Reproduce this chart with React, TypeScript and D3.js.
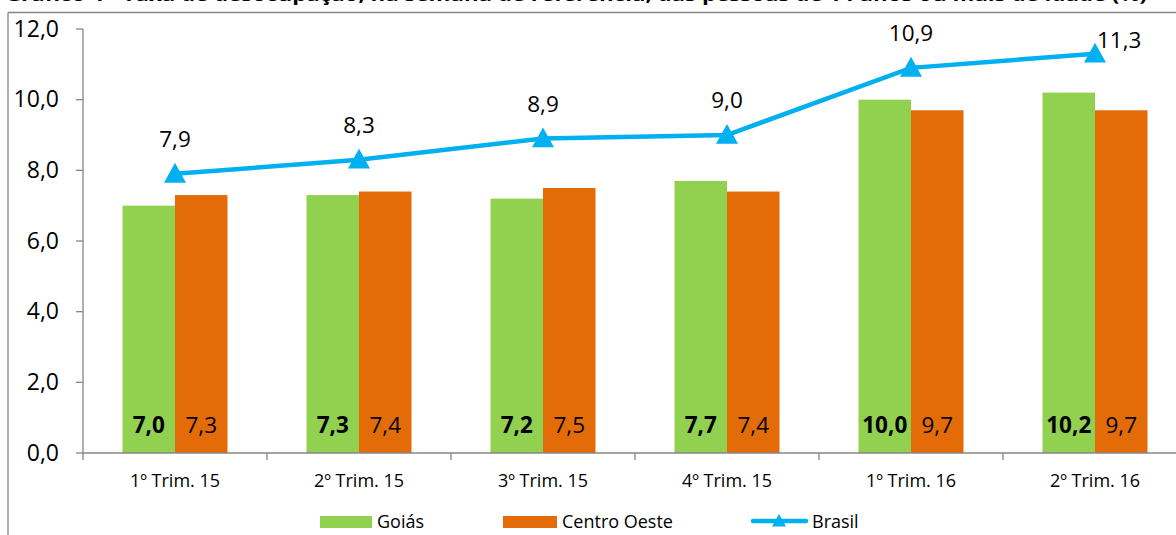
import React from "react";
import * as d3 from "d3";

const categories = ["1º Trim. 15", "2º Trim. 15", "3º Trim. 15", "4º Trim. 15", "1º Trim. 16", "2º Trim. 16"];
const goias = [7.0, 7.3, 7.2, 7.7, 10.0, 10.2];
const centroOeste = [7.3, 7.4, 7.5, 7.4, 9.7, 9.7];
const brasil = [7.9, 8.3, 8.9, 9.0, 10.9, 11.3];
const yTicks = [0, 2, 4, 6, 8, 10, 12];
const title = "Gráfico 4 - Taxa de desocupação, na semana de referência, das pessoas de 14 anos ou mais de idade (%)";

const W = 1176;
const H = 535;
const FONT = "'Open Sans', sans-serif";
const GREEN = "#92D050";
const ORANGE = "#E36C09";
const BLUE = "#00B0F0";
const AXIS = "#868686";

const fmt = (v: number) => v.toFixed(1).replace(".", ",");

export default function App() {
  const x0 = 83;
  const x = d3.scaleBand<string>().domain(categories).range([x0, x0 + 184 * 6]).paddingInner(0).paddingOuter(0);
  const y = d3.scaleLinear().domain([0, 12]).range([453, 29]);
  const barW = 52.5;
  const cx = (c: string) => (x(c) as number) + x.bandwidth() / 2;

  const line = d3
    .line<number>()
    .x((_, i) => cx(categories[i]))
    .y((d) => y(d));

  const tri = (px: number, py: number, s = 11) =>
    `M${px},${py - s} L${px + s},${py + s * 0.8} L${px - s},${py + s * 0.8} Z`;

  const last = brasil.length - 1;

  return (
    <svg width={W} height={H} style={{ position: "absolute", left: 0, top: 0, background: "#fff" }} fontFamily={FONT}>
      <text x={5} y={0.5} fontSize={18} fontWeight="bold" textLength={1142} lengthAdjust="spacingAndGlyphs" fill="#000">
        {title}
      </text>
      {/* frame */}
      <line x1={8} x2={W} y1={12.5} y2={12.5} stroke={AXIS} strokeWidth={1.3} />
      <line x1={8} x2={8} y1={12.5} y2={H} stroke={AXIS} strokeWidth={1.3} />

      {/* bars */}
      {categories.map((c, i) => (
        <g key={c}>
          <rect x={cx(c) - barW} y={y(goias[i])} width={barW} height={y(0) - y(goias[i])} fill={GREEN} />
          <rect x={cx(c)} y={y(centroOeste[i])} width={barW} height={y(0) - y(centroOeste[i])} fill={ORANGE} />
          <text x={cx(c) - barW / 2} y={433} textAnchor="middle" fontSize={22.5} fontWeight="bold" fill="#000">
            {fmt(goias[i])}
          </text>
          <text x={cx(c) + barW / 2} y={433} textAnchor="middle" fontSize={22.5} fill="#000">
            {fmt(centroOeste[i])}
          </text>
        </g>
      ))}

      {/* y axis */}
      <line x1={x0} x2={x0} y1={y(12)} y2={y(0)} stroke={AXIS} strokeWidth={1.3} />
      {yTicks.map((t) => (
        <g key={t}>
          <line x1={x0 - 7} x2={x0} y1={y(t)} y2={y(t)} stroke={AXIS} strokeWidth={1.3} />
          <text x={59} y={y(t) + 7.5} textAnchor="end" fontSize={23} fill="#000">
            {fmt(t)}
          </text>
        </g>
      ))}

      {/* x axis */}
      <line x1={x0} x2={W} y1={y(0)} y2={y(0)} stroke={AXIS} strokeWidth={1.3} />
      {categories.map((c) => (
        <g key={c}>
          <line x1={x(c) as number} x2={x(c) as number} y1={y(0)} y2={y(0) + 7} stroke={AXIS} strokeWidth={1.3} />
          <text x={cx(c)} y={487} textAnchor="middle" fontSize={18} fill="#000">
            {c}
          </text>
        </g>
      ))}

      {/* Brasil line */}
      <path d={line(brasil) as string} fill="none" stroke={BLUE} strokeWidth={4.5} />
      {brasil.map((v, i) => (
        <g key={i}>
          <path d={tri(cx(categories[i]), y(v))} fill={BLUE} />
          <text
            x={i === last ? cx(categories[i]) + 2 : cx(categories[i])}
            y={i === last ? y(v) - 6 : y(v) - 27}
            textAnchor={i === last ? "start" : "middle"}
            fontSize={22.5}
            fill="#000"
          >
            {fmt(v)}
          </text>
        </g>
      ))}

      {/* legend */}
      <rect x={320} y={516} width={52} height={12} fill={GREEN} />
      <text x={377} y={528} fontSize={18} fill="#000">Goiás</text>
      <rect x={503} y={516} width={54} height={12} fill={ORANGE} />
      <text x={562} y={528} fontSize={18} fill="#000">Centro Oeste</text>
      <line x1={753} x2={806} y1={521} y2={521} stroke={BLUE} strokeWidth={4.5} strokeLinecap="round" />
      <path d={tri(779, 521, 7)} fill={BLUE} />
      <text x={812} y={528} fontSize={18} fill="#000">Brasil</text>
    </svg>
  );
}
